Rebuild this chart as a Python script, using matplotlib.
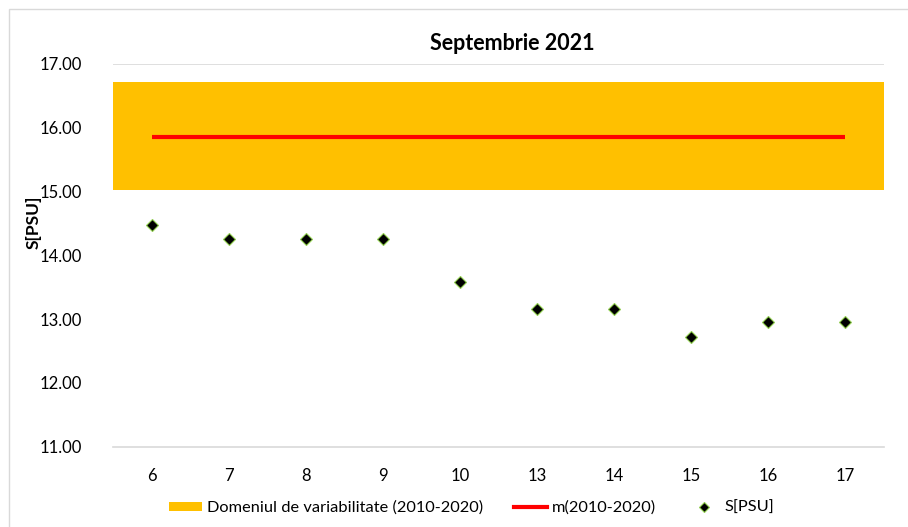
import numpy as np
import matplotlib.pyplot as plt
from matplotlib.patches import Rectangle, Patch
from matplotlib.lines import Line2D

plt.rcParams['font.family'] = ['Lato', 'DejaVu Sans']

# data
days = ['6', '7', '8', '9', '10', '13', '14', '15', '16', '17']
salinity = [14.47, 14.26, 14.26, 14.26, 13.59, 13.16, 13.16, 12.72, 12.95, 12.95]
range_low = 15.02
range_high = 16.72
mean_2010_2020 = 15.86

title = 'Septembrie 2021'
ylabel = 'S[PSU]'
yticks = [11, 12, 13, 14, 15, 16, 17]

fig = plt.figure(figsize=(9.08, 5.27), dpi=100)
ax = fig.add_axes([113/908, 1-446.7/527, (884-113)/908, (446.7-64)/527])

# outer chart border
fig.patches.append(Rectangle((9/908, -0.01), 1.0, 1 - 9/527 + 0.01, transform=fig.transFigure,
                             fill=False, edgecolor='#d9d9d9', linewidth=1.0))

x = np.arange(len(days))

ax.axhspan(range_low, range_high, color='#ffc000', lw=0, zorder=1)
ax.plot([x[0], x[-1]], [mean_2010_2020, mean_2010_2020], color='#ff0000', lw=3, zorder=3,
        solid_capstyle='butt')
ax.plot(x, salinity, linestyle='none', marker='D', markersize=6.5, markerfacecolor='black',
        markeredgecolor='#92d050', markeredgewidth=0.8, zorder=4)

ax.axhline(17, color='#d9d9d9', lw=1.2, zorder=0)

ax.set_xlim(-0.5, len(days) - 0.5)
ax.set_ylim(11, 17)
ax.set_xticks(x)
ax.set_xticklabels(days)
ax.set_yticks(yticks)
ax.set_yticklabels(['%.2f' % v for v in yticks])
ax.tick_params(axis='both', length=0, labelsize=12, colors='#000000')
ax.tick_params(axis='x', pad=15)
ax.tick_params(axis='y', pad=22)

for s in ['top', 'right', 'left']:
    ax.spines[s].set_visible(False)
ax.spines['bottom'].set_color('#d9d9d9')
ax.spines['bottom'].set_linewidth(1.2)

fig.text(512/908, 1-43/527, title, fontsize=15.5, fontweight='bold', ha='center', va='center')
ax.set_ylabel(ylabel, fontsize=12.5, fontweight='bold')
ax.yaxis.set_label_coords(-(113-42)/771, (446.7-222)/382.7)

handles = [
    Patch(facecolor='#ffc000', edgecolor='none', label='Domeniul de variabilitate (2010-2020)'),
    Line2D([0], [0], color='#ff0000', lw=3, label='m(2010-2020)'),
    Line2D([0], [0], linestyle='none', marker='D', markersize=5, markerfacecolor='black',
           markeredgecolor='#92d050', markeredgewidth=0.8, label='S[PSU]'),
]
fig.legend(handles=handles, loc='center', bbox_to_anchor=(472/908, 1-508/527), ncol=3,
           frameon=False, fontsize=11.8, handlelength=2.0, handleheight=0.5, handletextpad=0.3,
           columnspacing=1.9)

fig.savefig('out.png', dpi=100)
